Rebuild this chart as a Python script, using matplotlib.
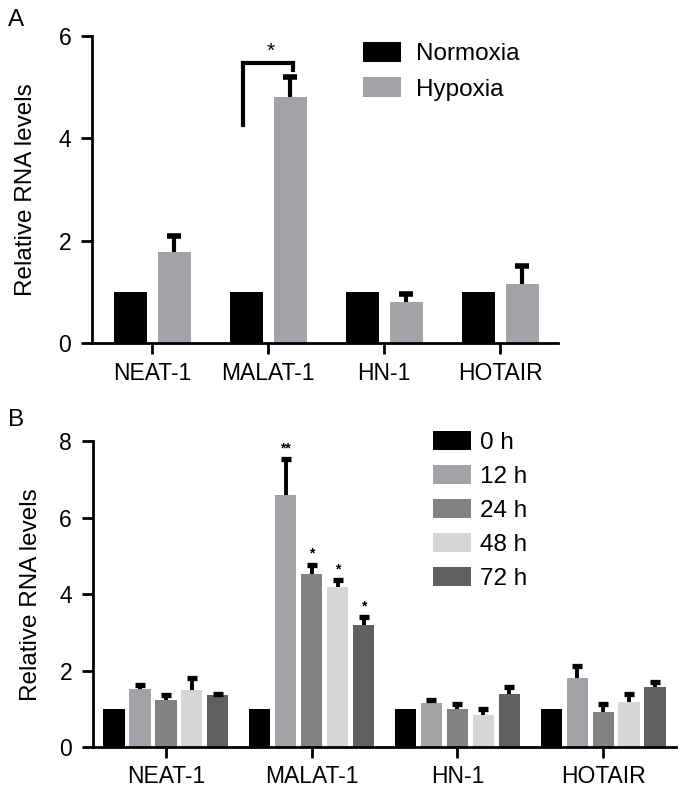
import numpy as np
import matplotlib.pyplot as plt

plt.rcParams['font.family'] = ['Liberation Sans', 'DejaVu Sans']

genes = ['NEAT-1', 'MALAT-1', 'HN-1', 'HOTAIR']

# panel A
normoxia = [1.0, 1.0, 1.0, 1.0]
hypoxia = [1.78, 4.80, 0.80, 1.15]
hypoxia_err = [0.32, 0.40, 0.15, 0.35]

# panel B
times = ['0 h', '12 h', '24 h', '48 h', '72 h']
time_vals = [
    [1.0, 1.0, 1.0, 1.0],
    [1.53, 6.60, 1.15, 1.80],
    [1.22, 4.53, 1.00, 0.91],
    [1.50, 4.18, 0.83, 1.18],
    [1.35, 3.18, 1.38, 1.57],
]
time_err = [
    [0.0, 0.0, 0.0, 0.0],
    [0.10, 0.94, 0.07, 0.33],
    [0.13, 0.24, 0.12, 0.21],
    [0.30, 0.18, 0.17, 0.21],
    [0.04, 0.22, 0.19, 0.13],
]
time_stars = ['', '**', '*', '*', '*']

time_colors = ['#000000', '#a3a3a7', '#828282', '#d6d6d6', '#606060']
fs = 16.5
lfs = 17.5

fig = plt.figure(figsize=(6.83, 7.94), dpi=100)


def style(ax, pad):
    for s in ['top', 'right']:
        ax.spines[s].set_visible(False)
    for s in ['left', 'bottom']:
        ax.spines[s].set_linewidth(2.0)
    ax.tick_params(axis='both', width=2.0, length=8, labelsize=fs)
    ax.tick_params(axis='y', pad=7)
    ax.tick_params(axis='x', pad=pad)
    ax.set_ylabel('Relative RNA levels', fontsize=lfs)


def upper_err(ax, pos, vals, err, lw, cap):
    eb = ax.errorbar(pos, vals, yerr=[np.zeros(len(vals)), err], fmt='none',
                     ecolor='black', elinewidth=lw, capsize=cap, capthick=lw + 1)
    eb[1][0].set_visible(False)


# ---- A ----
ax1 = fig.add_axes([0.135, 0.568, 0.682, 0.3866])
x = np.arange(len(genes))
w = 0.285
ax1.bar(x - 0.19, normoxia, w, color='black', label='Normoxia')
ax1.bar(x + 0.19, hypoxia, w, color='#a3a3a7', label='Hypoxia')
upper_err(ax1, x + 0.19, hypoxia, hypoxia_err, 3, 4.8)
ax1.set_xlim(-0.52, 3.5)
ax1.set_ylim(0, 6)
ax1.set_yticks([0, 2, 4, 6])
ax1.set_xticks(x)
ax1.set_xticklabels(genes)
style(ax1, 6)
ax1.plot([0.784, 0.784, 1.216, 1.216], [4.26, 5.47, 5.47, 5.34], color='black', lw=3,
         solid_joinstyle='miter')
ax1.text(1.02, 5.52, '*', ha='center', va='bottom', fontsize=15)
ax1.legend(loc='upper left', bbox_to_anchor=(0.582, 0.98), frameon=False,
           fontsize=lfs, handlelength=1.55, handleheight=0.85, labelspacing=0.5,
           handletextpad=0.6, borderpad=0, borderaxespad=0)
ax1.yaxis.set_label_coords(-0.118, 0.5)
fig.text(0.011, 0.975, 'A', fontsize=lfs, va='center')

# ---- B ----
ax2 = fig.add_axes([0.136, 0.0592, 0.854, 0.385])
step = 0.178
bw = 0.147
for i, t in enumerate(times):
    pos = x + (i - 2) * step
    ax2.bar(pos, time_vals[i], bw, color=time_colors[i], label=t)
    if i > 0:
        upper_err(ax2, pos, time_vals[i], time_err[i], 2.8, 3.6)
    if time_stars[i]:
        top = time_vals[i][1] + time_err[i][1]
        ax2.text(pos[1], top + 0.1, time_stars[i], ha='center', va='bottom',
                 fontsize=10, fontweight='bold')
ax2.set_xlim(-0.5, 3.5)
ax2.set_ylim(0, 8)
ax2.set_yticks([0, 2, 4, 6, 8])
ax2.set_xticks(x)
ax2.set_xticklabels(genes)
style(ax2, 5)
ax2.legend(loc='upper left', bbox_to_anchor=(0.583, 1.035), frameon=False,
           fontsize=lfs, handlelength=1.55, handleheight=0.85, labelspacing=0.45,
           handletextpad=0.4, borderpad=0, borderaxespad=0)
ax2.yaxis.set_label_coords(-0.087, 0.5)
fig.text(0.011, 0.471, 'B', fontsize=lfs, va='center')

fig.savefig('out.png', dpi=100)
